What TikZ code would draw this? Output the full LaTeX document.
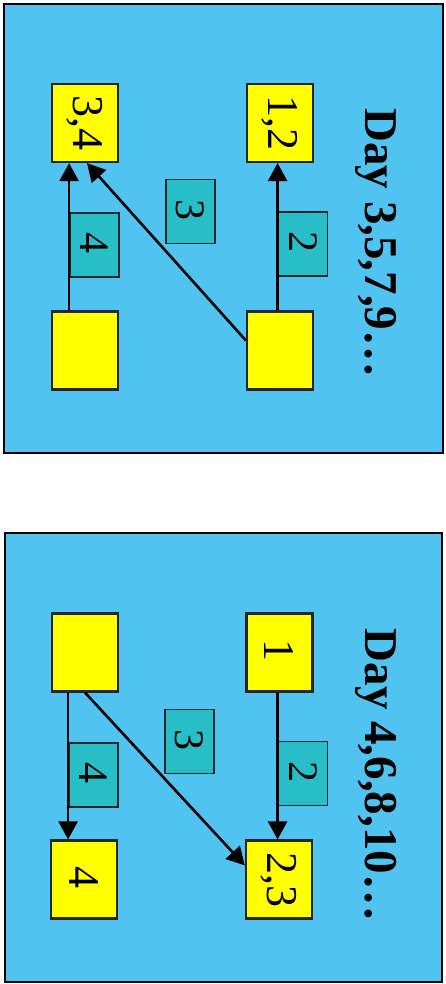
\documentclass[tikz,border=0pt]{standalone}
\usepackage{fontspec}
\setmainfont{Liberation Serif}
\usetikzlibrary{arrows.meta}
\definecolor{skyblue}{RGB}{80,195,240}
\definecolor{boxteal}{RGB}{40,190,200}
\definecolor{boxyellow}{RGB}{255,255,0}
\newcommand{\rt}[1]{\rotatebox[origin=c]{-90}{#1}}
\tikzset{
  panel/.style={draw=black,line width=2pt,fill=skyblue},
  yellowbox/.style={draw=black!85,line width=2.2pt,fill=boxyellow,minimum width=66pt,minimum height=78pt,inner sep=0pt,font=\fontsize{44}{48}\selectfont},
  tealbox/.style={draw=black!85,line width=1.8pt,fill=boxteal,minimum width=49pt,minimum height=64pt,inner sep=0pt,font=\fontsize{42}{46}\selectfont},
  dayhead/.style={rotate=-90,font=\bfseries\fontsize{47}{52}\selectfont},
  arr/.style={line width=2.6pt,-{Triangle[length=18pt,width=19pt]}}
}
\begin{document}
\begin{tikzpicture}[x=1pt,y=-1pt]
	\useasboundingbox (0,0) rectangle (445,984);
	% odd days
	\draw[panel] (4,4) rectangle (443,453);
	\node[yellowbox] (a) at (85,123) {\rt{3,4}};
	\node[yellowbox] (b) at (280,123) {\rt{1,2}};
	\node[yellowbox] (c) at (85,350.5) {};
	\node[yellowbox] (d) at (280,350.5) {};
	\node[tealbox] (ab4) at (94.5,245) {\rt{4}};
	\node[tealbox] (ab3) at (190.5,211.5) {\rt{3}};
	\node[tealbox] (ab2) at (303,244) {\rt{2}};
	\node[dayhead] (odd) at (376,243) {Day 3,5,7,9\dots};
	\draw[arr] (ab4.west |- c.north) -- (ab4.west |- a.south);
	\draw[arr] (ab2.west |- d.north) -- (ab2.west |- b.south);
	\draw[arr] ([yshift=10pt]d.west) -- ([xshift=2pt]a.south);
	% even days
	\draw[panel] (5,533) rectangle (442,982);
	\node[yellowbox] (e) at (85,652.5) {};
	\node[yellowbox] (f) at (279.5,652.5) {\rt{1}};
	\node[yellowbox] (g) at (84,879.5) {\rt{4}};
	\node[yellowbox] (h) at (279,879.5) {\rt{2,3}};
	\node[tealbox] (ef4) at (93.5,775) {\rt{4}};
	\node[tealbox] (ef3) at (189.5,741.5) {\rt{3}};
	\node[tealbox] (ef2) at (303,773.5) {\rt{2}};
	\node[dayhead] (even) at (376,775) {Day 4,6,8,10\dots};
	\draw[arr] (ef4.west |- e.south) -- (ef4.west |- g.north);
	\draw[arr] (ef2.west |- f.south) -- (ef2.west |- h.north);
	\draw[arr] (e.south) -- ([yshift=14pt]h.west);
\end{tikzpicture}
\end{document}
